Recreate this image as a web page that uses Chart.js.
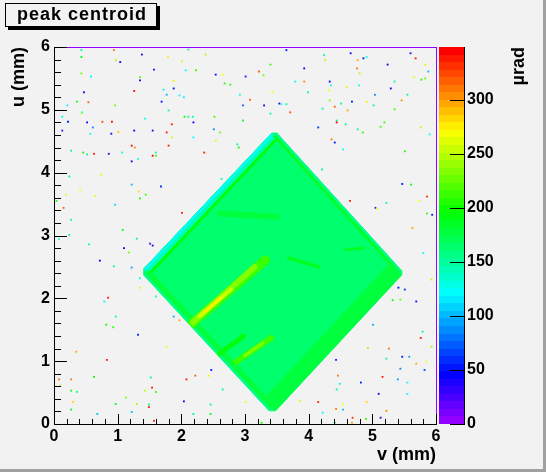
<!DOCTYPE html>
<html>
<head>
<meta charset="utf-8">
<script src="https://cdn.jsdelivr.net/npm/chart.js@4.4.0/dist/chart.umd.min.js"></script>
<style>
  html, body { margin: 0; padding: 0; background: #f2f2f2; overflow: hidden; }
  canvas { display: block; }
</style>
</head>
<body>
<canvas id="chart" width="546" height="472"></canvas>
<script>
// axis ranges (mm) and colour scale (µrad)
const vRange = [0, 6];
const uRange = [0, 6];
const zMax = 349;
const zTicks = [0, 50, 100, 150, 200, 250, 300];

// outline of the spot (v, u in mm) and its mean centroid value
const spotV = [1.41, 3.42, 3.50, 5.46, 5.46, 3.48, 3.38, 1.41];
const spotU = [2.47, 4.63, 4.63, 2.44, 2.37, 0.21, 0.21, 2.37];
const spotValue = 165;

// values along the spot edges (edge = pair of outline corners)
const edgeFrom  = [0, 0, 0, 2, 2, 4, 6, 6];
const edgeTo    = [1, 1, 1, 3, 3, 5, 7, 7];
const edgeValue = [190, 146, 125, 182, 150, 176, 180, 150];

// streaks inside the spot
const streakV1 = [2.15, 2.18, 2.28, 2.36, 2.86, 3.00, 2.60, 3.69, 4.58, 2.60];
const streakU1 = [1.58, 1.62, 1.71, 1.78, 0.99, 1.09, 1.12, 2.64, 2.77, 3.35];
const streakV2 = [3.32, 3.15, 2.78, 2.62, 3.41, 3.28, 2.98, 4.16, 4.86, 3.50];
const streakU2 = [2.61, 2.50, 2.14, 2.01, 1.37, 1.29, 1.40, 2.50, 2.80, 3.30];
const streakValue = [212, 235, 258, 275, 212, 235, 192, 186, 186, 180];

// isolated pixels outside the spot
const dotV = [
  0.43,0.94,1.38,2.11,2.38,0.43,0.97,1.04,1.79,2.01,1.57,2.07,2.23,2.54,2.65,0.43,0.58,1.35,1.35,1.88,
  2.68,2.77,1.26,0.47,1.88,1.72,1.77,1.97,2.04,2.92,0.36,0.54,1.69,0.96,0.21,1.80,2.97,0.43,0.44,0.13,
  1.43,2.05,2.11,2.18,2.52,2.97,0.22,0.52,0.76,0.91,1.85,2.19,0.61,1.26,1.55,0.13,1.01,1.77,0.90,0.57,
  2.51,2.61,1.85,2.19,2.54,2.88,2.90,1.22,1.27,1.80,0.27,0.46,0.52,0.63,0.86,1.07,1.60,1.55,1.60,2.36,
  1.32,1.22,0.24,0.74,1.22,1.68,2.63,0.41,0.19,0.65,1.33,1.44,1.35,0.04,0.96,0.15,2.01,0.27,1.08,0.24,
  3.65,4.24,4.26,4.66,4.86,4.91,4.77,5.60,5.68,5.83,3.40,3.22,3.29,3.93,4.76,4.80,5.24,5.88,5.65,5.77,
  5.83,3.01,3.79,3.93,4.33,4.35,4.79,4.60,4.32,5.35,5.29,3.99,3.43,5.04,5.55,3.08,3.54,3.57,3.65,3.30,
  4.33,4.68,4.91,5.46,4.41,4.51,4.22,4.61,5.02,5.35,3.40,3.71,4.44,4.44,4.58,4.15,4.77,4.85,5.13,5.19,
  5.76,5.90,4.36,4.41,4.54,5.51,4.21,5.47,5.61,5.86,4.65,5.22,5.74,5.05,5.07,5.86,5.94,5.63,
  0.08,0.55,1.30,1.51,1.55,1.10,1.18,0.72,0.94,1.22,1.35,1.35,0.85,0.79,1.60,0.97,0.82,0.93,1.32,1.88,
  1.97,1.77,0.35,0.83,2.47,0.63,1.52,2.22,2.43,2.08,0.08,0.27,0.10,0.27,0.36,1.54,1.60,1.43,2.65,0.30,
  1.13,0.97,1.30,1.49,1.49,2.04,2.46,0.27,0.68,1.22,2.19,2.46,1.57,
  5.80,5.93,5.41,5.51,5.69,5.32,5.44,5.01,5.79,5.76,5.93,4.93,5.26,4.43,5.22,5.47,5.58,5.69,5.85,5.44,
  5.82,4.46,5.16,4.49,4.82,5.40,5.55,4.44,5.10,5.55,3.86,4.15,3.01,4.91,4.54,4.43,4.54,4.22,5.22,4.69,
  4.90,5.13,3.26,4.41,4.68
];
const dotU = [
  5.95,5.95,5.88,5.96,5.88,5.84,5.79,5.76,5.84,5.77,5.64,5.63,5.63,5.56,5.56,5.58,5.53,5.52,5.47,5.46,
  5.42,5.40,5.30,5.28,5.34,5.32,5.24,5.23,5.20,5.24,5.13,5.12,5.13,5.07,5.07,4.99,5.07,4.94,4.96,4.89,
  4.86,4.89,4.89,4.89,4.89,4.83,4.81,4.80,4.81,4.81,4.77,4.80,4.72,4.67,4.67,4.67,4.65,4.64,4.62,4.62,
  4.69,4.64,4.56,4.56,4.51,4.45,4.40,4.43,4.40,4.43,4.35,4.32,4.29,4.30,4.30,4.32,4.32,4.27,4.27,4.32,
  4.22,4.18,3.94,3.97,3.81,3.78,3.90,3.73,3.65,3.63,3.70,3.65,3.59,3.55,3.49,3.44,3.36,3.25,3.09,3.01,
  5.95,5.87,5.79,5.90,5.82,5.84,5.79,5.90,5.82,5.72,5.72,5.61,5.55,5.66,5.66,5.58,5.72,5.61,5.52,5.48,
  5.50,5.53,5.45,5.45,5.45,5.39,5.39,5.36,5.31,5.45,5.34,5.28,5.29,5.24,5.24,5.16,5.10,5.09,5.09,5.07,
  5.15,5.13,5.13,5.15,5.05,5.10,5.02,4.99,5.07,5.01,4.94,4.96,4.83,4.80,4.77,4.72,4.69,4.64,4.73,4.80,
  4.72,4.61,4.53,4.48,4.37,4.34,4.05,3.82,3.81,3.62,3.55,3.52,3.55,3.44,3.43,3.35,3.33,3.12,
  2.94,2.86,2.95,2.87,2.84,2.80,2.73,2.60,2.51,2.49,2.32,2.17,2.01,1.95,2.03,1.71,1.58,1.54,1.42,1.71,
  1.65,1.23,1.15,1.02,0.86,0.75,0.74,0.77,0.77,0.71,0.71,0.71,0.61,0.53,0.51,0.58,0.51,0.53,0.55,0.35,
  0.42,0.32,0.32,0.31,0.27,0.36,0.31,0.23,0.16,0.19,0.16,0.16,0.05,
  2.72,2.30,2.17,2.14,1.95,1.97,1.98,1.58,1.47,1.37,1.23,1.21,1.20,1.02,1.04,1.07,1.07,0.96,0.99,0.88,
  0.86,0.77,0.75,0.64,0.66,0.71,0.66,0.55,0.48,0.48,0.37,0.35,0.35,0.35,0.31,0.24,0.23,0.18,0.21,0.10,
  0.08,0.10,0.02,0.02,0.02
];
const dotValue = [
  150,310,40,160,250,190,250,45,275,255,35,125,210,55,270,230,125,210,45,275,
  205,215,345,30,45,125,100,125,115,125,200,315,50,230,130,145,70,270,130,130,
  130,200,150,150,210,200,50,40,325,340,340,45,85,45,40,25,290,340,50,130,
  85,230,255,125,275,150,190,345,305,340,160,200,160,340,30,130,140,345,210,340,
  130,45,150,265,100,60,140,270,265,260,280,210,200,205,105,320,340,155,195,155,
  50,150,250,50,55,130,300,30,340,265,210,315,230,45,310,245,45,100,270,205,
  225,30,130,305,45,125,130,275,270,145,45,150,270,85,150,315,40,130,140,45,
  235,45,275,305,315,150,150,295,150,210,150,325,150,345,155,60,150,215,220,215,
  245,125,310,50,120,205,150,50,200,335,340,155,270,50,260,215,55,300,
  130,155,155,25,40,45,225,45,155,95,125,275,340,130,135,150,200,205,60,95,
  300,270,300,340,55,200,160,315,265,340,310,310,245,195,155,340,215,245,155,280,
  225,200,240,160,340,45,155,195,100,100,155,190,340,
  125,245,45,60,40,200,225,100,155,340,240,240,310,30,150,50,95,300,270,90,
  65,310,340,140,50,95,130,155,45,125,265,340,270,280,270,310,100,120,305,335,
  215,35,200,160,300
];

// ---- styling ----
const bg = '#f2f2f2';
const edgeWidth = [18, 12, 5, 10, 4, 34, 16, 4];
const streakWidth = [9, 6, 4, 2.5, 6, 3, 5, 4, 3, 6];
const boldFont = (size) => ({ family: "'Liberation Sans', Arial, sans-serif", size: size, weight: 'bold' });

// ROOT "pretty" palette: 50 hues from violet to red
function zColor(z) {
  const i = Math.min(49, Math.max(0, Math.floor(z / zMax * 50)));
  const hue = 280 - (i + 1) * 5.6;
  return `hsl(${hue}, 100%, 50%)`;
}

function spotPath(chart) {
  const { x, y } = chart.scales;
  const ctx = chart.ctx;
  ctx.beginPath();
  spotV.forEach((v, k) => {
    const px = x.getPixelForValue(v), py = y.getPixelForValue(spotU[k]);
    if (k) ctx.lineTo(px, py); else ctx.moveTo(px, py);
  });
  ctx.closePath();
}

const datasets = [];

datasets.push({
  type: 'scatter',
  data: dotV.map((v, k) => ({ x: v, y: dotU[k] })),
  pointStyle: 'rect',
  pointRadius: 1.3,
  pointBorderWidth: 0,
  pointBackgroundColor: dotValue.map(zColor),
  order: 0
});

streakValue.forEach((z, k) => {
  datasets.push({
    type: 'line',
    data: [{ x: streakV1[k], y: streakU1[k] }, { x: streakV2[k], y: streakU2[k] }],
    borderColor: zColor(z),
    borderWidth: streakWidth[k],
    borderCapStyle: 'round',
    pointRadius: 0,
    fill: false,
    clipToSpot: true,
    order: 1 + streakValue.length - k
  });
});

edgeValue.forEach((z, k) => {
  datasets.push({
    type: 'line',
    data: [{ x: spotV[edgeFrom[k]], y: spotU[edgeFrom[k]] }, { x: spotV[edgeTo[k]], y: spotU[edgeTo[k]] }],
    borderColor: zColor(z),
    borderWidth: edgeWidth[k],
    pointRadius: 0,
    fill: false,
    clipToSpot: true,
    order: 20 + edgeValue.length - k
  });
});

datasets.push({
  type: 'line',
  data: spotV.concat(spotV[0]).map((v, k) => ({ x: v, y: spotU.concat(spotU[0])[k] })),
  backgroundColor: zColor(spotValue),
  borderColor: zColor(spotValue),
  borderWidth: 1,
  pointRadius: 0,
  fill: 'shape',
  order: 40
});

const rootStyle = {
  id: 'rootStyle',
  beforeDraw(chart) {
    const ctx = chart.ctx;
    ctx.save();
    ctx.fillStyle = bg;
    ctx.fillRect(0, 0, chart.width, chart.height);
    ctx.fillStyle = '#a0a0a0';
    ctx.fillRect(chart.width - 3, 0, 3, chart.height);
    ctx.fillRect(0, chart.height - 3, chart.width, 3);
    // title box with shadow
    ctx.fillStyle = '#000';
    ctx.fillRect(157, 6, 3, 24);
    ctx.fillRect(8, 27, 152, 3);
    ctx.fillStyle = bg;
    ctx.fillRect(5, 3, 152, 24);
    ctx.strokeStyle = '#000';
    ctx.lineWidth = 1;
    ctx.strokeRect(5.5, 3.5, 151, 23);
    ctx.fillStyle = '#000';
    ctx.font = "bold 18px 'Liberation Sans', Arial, sans-serif";
    ctx.letterSpacing = '1px';
    ctx.textBaseline = 'middle';
    ctx.textAlign = 'left';
    ctx.fillText('peak centroid', 17, 15.5);
    ctx.restore();
  },
  beforeDatasetDraw(chart, args) {
    if (chart.data.datasets[args.index].clipToSpot) {
      chart.ctx.save();
      spotPath(chart);
      chart.ctx.clip();
    }
  },
  afterDatasetDraw(chart, args) {
    if (chart.data.datasets[args.index].clipToSpot) chart.ctx.restore();
  },
  afterDraw(chart) {
    const ctx = chart.ctx;
    const { left, right, top, bottom } = chart.chartArea;
    const { x, y, z } = chart.scales;
    ctx.save();
    // frame
    ctx.fillStyle = zColor(0);
    ctx.fillRect(left, top, right - left, 1);
    ctx.fillRect(right, top, 1, bottom - top);
    ctx.fillStyle = '#000';
    ctx.fillRect(left, top, 1, bottom - top + 1);
    ctx.fillRect(left, bottom, right - left + 1, 1);
    // inward ticks, 0.2 mm
    for (let k = 0; k <= 30; k++) {
      const val = k / 5;
      const px = Math.round(x.getPixelForValue(val));
      const lx = k % 5 === 0 ? 10 : 5;
      ctx.fillRect(px, bottom - lx, 1, lx);
      const py = Math.round(y.getPixelForValue(val));
      const ly = k % 5 === 0 ? 13 : 7;
      ctx.fillRect(left, py, ly, 1);
    }
    // colour bar
    const x0 = right + 3, x1 = right + 28;
    for (let i = 0; i < 50; i++) {
      const yTop = Math.round(z.getPixelForValue((i + 1) * zMax / 50));
      const yBot = Math.round(z.getPixelForValue(i * zMax / 50));
      ctx.fillStyle = zColor((i + 0.5) * zMax / 50);
      ctx.fillRect(x0, yTop, x1 - x0, yBot - yTop);
    }
    ctx.fillStyle = '#000';
    ctx.fillRect(x1, top, 1, bottom - top + 1);
    z.ticks.forEach(t => {
      const py = Math.round(z.getPixelForValue(t.value));
      ctx.fillRect(x1 - 14, py, 14, 1);
    });
    // z title
    ctx.translate(519, top);
    ctx.rotate(-Math.PI / 2);
    ctx.font = "bold 18px 'Liberation Sans', Arial, sans-serif";
    ctx.textAlign = 'right';
    ctx.textBaseline = 'middle';
    ctx.fillText('µrad', 0, 0);
    ctx.restore();
  }
};

new Chart(document.getElementById('chart'), {
  type: 'scatter',
  data: { datasets: datasets },
  options: {
    responsive: false,
    devicePixelRatio: 1,
    animation: false,
    events: [],
    layout: { padding: { top: 47, left: 0, right: 0, bottom: 0 } },
    plugins: { legend: { display: false }, tooltip: { enabled: false }, title: { display: false } },
    scales: {
      x: {
        type: 'linear', position: 'bottom', min: vRange[0], max: vRange[1],
        ticks: { stepSize: 1, padding: 3, font: boldFont(16), color: '#000', autoSkip: false, maxRotation: 0 },
        grid: { display: false, drawTicks: false },
        border: { display: false },
        title: { display: true, text: 'v (mm)', align: 'end', color: '#000', font: boldFont(18), padding: { top: 0, bottom: 6 } },
        afterFit(s) { s.height = 48; }
      },
      y: {
        type: 'linear', position: 'left', min: uRange[0], max: uRange[1],
        ticks: { stepSize: 1, padding: 4, font: boldFont(16), color: '#000', autoSkip: false },
        grid: { display: false, drawTicks: false },
        border: { display: false },
        title: { display: true, text: 'u (mm)', align: 'end', color: '#000', font: boldFont(18), padding: { top: 8, bottom: 0 } },
        afterFit(s) { s.width = 54; }
      },
      z: {
        type: 'linear', position: 'right', min: 0, max: zMax,
        ticks: { padding: 31, font: boldFont(16), color: '#000', autoSkip: false },
        grid: { display: false, drawTicks: false },
        border: { display: false },
        afterBuildTicks(s) { s.ticks = zTicks.map(v => ({ value: v })); },
        afterFit(s) { s.width = 110; }
      }
    }
  },
  plugins: [rootStyle]
});
</script>
</body>
</html>
